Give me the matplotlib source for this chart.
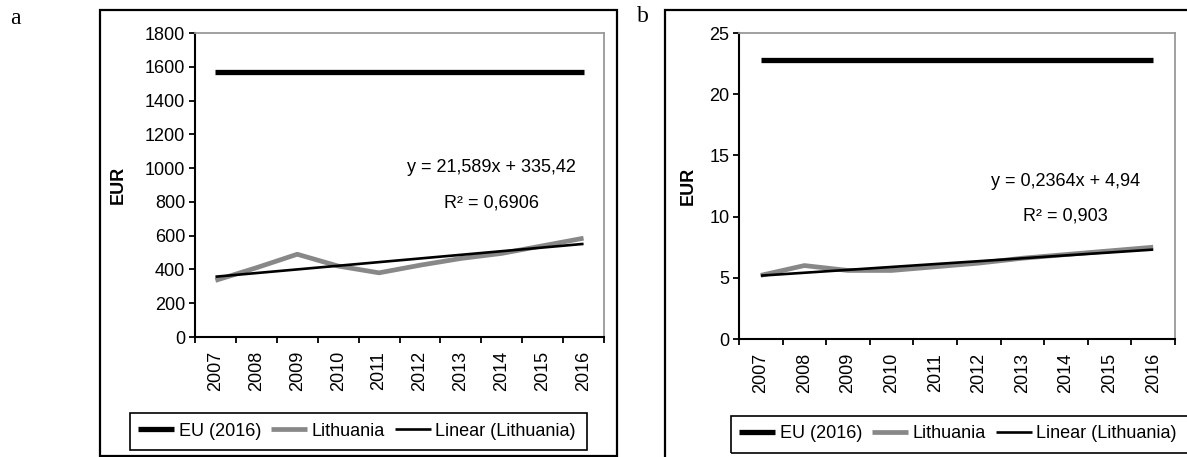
import matplotlib
matplotlib.use("Agg")
from matplotlib import pyplot as plt
from matplotlib.patches import Rectangle
import numpy as np

plt.rcParams['font.family'] = ['Liberation Sans', 'DejaVu Sans']
plt.rcParams['font.size'] = 13

years = ['2007', '2008', '2009', '2010', '2011', '2012', '2013', '2014', '2015', '2016']

# panel a
eu_a = 1570
lt_a = [335, 410, 490, 420, 380, 425, 465, 495, 540, 585]
slope_a, icpt_a, r2_a = 21.589, 335.42, '0,6906'
eq_a = 'y = 21,589x + 335,42'

# panel b
eu_b = 22.8
lt_b = [5.2, 6.0, 5.6, 5.6, 5.9, 6.2, 6.6, 6.9, 7.2, 7.5]
slope_b, icpt_b, r2_b = 0.2364, 4.94, '0,903'
eq_b = 'y = 0,2364x + 4,94'

W, H = 1187, 457
fig = plt.figure(figsize=(W / 100, H / 100), dpi=100)


def px(x0, y0, x1, y1):
    # pixel box -> figure fraction [left, bottom, width, height]
    return [x0 / W, 1 - y1 / H, (x1 - x0) / W, (y1 - y0) / H]


def panel(rect, eu, lt, slope, icpt, eq, r2, ymax, ystep, eq_xy, ylab_x, leg_xy):
    ax = fig.add_axes(rect)
    x = np.arange(1, len(years) + 1)
    l1, = ax.plot(x, [eu] * len(x), color='black', lw=3.8, solid_capstyle='butt', label='EU (2016)')
    l2, = ax.plot(x, lt, color='#888888', lw=3.4, solid_capstyle='butt', label='Lithuania')
    l3, = ax.plot(x, slope * x + icpt, color='black', lw=1.9, solid_capstyle='butt', label='Linear (Lithuania)')

    ax.set_xlim(0.5, len(years) + 0.5)
    ax.set_ylim(0, ymax)
    ax.set_yticks(np.arange(0, ymax + ystep / 2, ystep))
    ax.set_xticks(np.arange(0.5, len(years) + 1, 1))
    ax.set_xticklabels([])
    ax.set_xticks(x, minor=True)
    ax.set_xticklabels(years, minor=True, rotation=90)
    ax.tick_params(axis='both', which='major', direction='out', length=4, width=1.3, color='black', pad=3)
    ax.tick_params(axis='x', which='minor', length=0, pad=10)
    for s in ['left', 'bottom']:
        ax.spines[s].set_linewidth(1.5)
    for s in ['top', 'right']:
        ax.spines[s].set_color('#999999')
        ax.spines[s].set_linewidth(1.3)

    ax.set_ylabel('EUR', fontweight='bold', fontsize=13)
    ax.yaxis.set_label_coords(ylab_x, 0.5)

    ax.text(eq_xy[0], eq_xy[1], eq, transform=ax.transAxes, ha='center', va='center')
    ax.text(eq_xy[0], eq_xy[1] - 0.114, 'R² = ' + r2, transform=ax.transAxes, ha='center', va='center')

    fig.legend(handles=[l1, l2, l3], loc='center left', bbox_to_anchor=leg_xy, ncol=3,
               frameon=False, handlelength=2.0, handletextpad=0.25, columnspacing=0.55,
               borderaxespad=0, borderpad=0)
    return ax


panel(px(195, 33, 604, 337), eu_a, lt_a, slope_a, icpt_a, eq_a, r2_a, 1800, 200,
      (0.726, 0.556), -0.166, (138 / W, 1 - 431 / H))
panel(px(739, 33, 1175, 339), eu_b, lt_b, slope_b, icpt_b, eq_b, r2_b, 25, 5,
      (0.748, 0.516), -0.096, (739 / W, 1 - 434 / H))

# outer panel frames and legend frames
for (x0, y0, x1, y1, lw) in [(100, 10, 617, 456, 1.6), (665, 10, 1195, 465, 1.6),
                             (130, 413, 587, 450, 1.2), (731, 416, 1195, 453, 1.2)]:
    fig.add_artist(Rectangle((x0 / W, 1 - y1 / H), (x1 - x0) / W, (y1 - y0) / H,
                             transform=fig.transFigure, fill=False, edgecolor='black', lw=lw))

fig.text(10 / W, 1 - 19 / H, 'a', family='Liberation Serif', fontsize=17, ha='left', va='center')
fig.text(637 / W, 1 - 17 / H, 'b', family='Liberation Serif', fontsize=17, ha='left', va='center')

plt.savefig('out.png', dpi=100)
